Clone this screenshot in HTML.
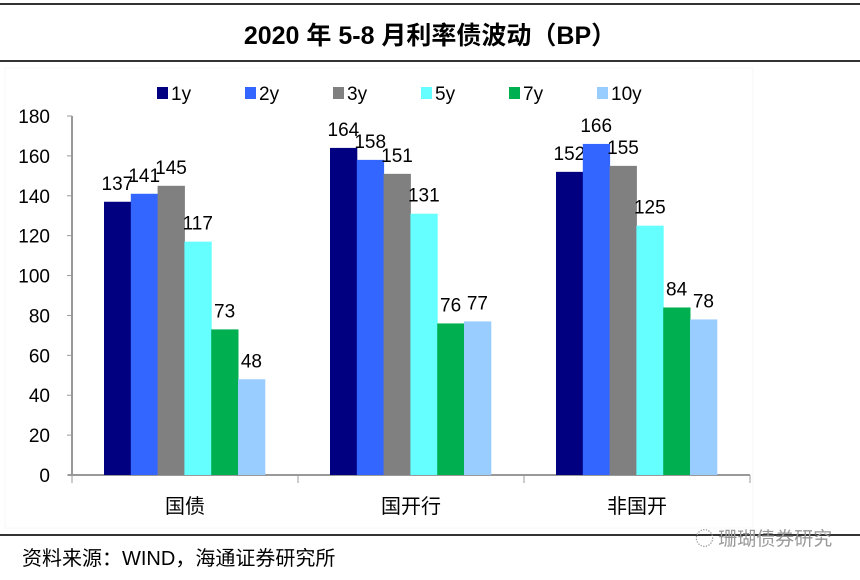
<!DOCTYPE html>
<html><head><meta charset="utf-8"><style>
body{margin:0;background:#fff;width:860px;height:575px;overflow:hidden;font-family:"Liberation Sans","Noto Sans CJK SC",sans-serif}
</style></head><body>
<svg id="c" width="860" height="575" xmlns="http://www.w3.org/2000/svg">
<line x1="0" y1="4" x2="860" y2="4" stroke="#333" stroke-width="2"/>
<text x="430" y="44" text-anchor="middle" font-size="25" font-weight="bold" font-family="Liberation Sans,Noto Sans CJK SC,sans-serif">2020 年 5-8 月利率债波动（BP）</text>
<line x1="0" y1="61" x2="860" y2="61" stroke="#333" stroke-width="2"/>
<rect x="5" y="68" width="748" height="460" fill="none" stroke="#f7f7f7"/>
<g id="legend"></g><g id="axes"></g><g id="bars"></g>
<line x1="0" y1="535" x2="860" y2="535" stroke="#333" stroke-width="2"/>
<text x="22" y="565" font-size="20" font-family="Liberation Sans,Noto Sans CJK SC,sans-serif">资料来源：WIND，海通证券研究所</text>
<text x="695" y="545" font-size="19" fill="#999" font-family="Noto Sans CJK SC,sans-serif">◌ 珊瑚债券研究</text>
</svg>
<script>
const categories=["国债","国开行","非国开"];
const seriesNames=["1y","2y","3y","5y","7y","10y"];
const colors=["#000080","#3366ff","#808080","#66ffff","#00b050","#99ccff"];
const s1y=[137,164,152];
const s2y=[141,158,166];
const s3y=[145,151,155];
const s5y=[117,131,125];
const s7y=[73,76,84];
const s10y=[48,77,78];
const yTicks=[0,20,40,60,80,100,120,140,160,180];
const series=[s1y,s2y,s3y,s5y,s7y,s10y];
const NS="http://www.w3.org/2000/svg";
const x0=72,gw=226,y0=475,ymax=180,yTop=116,bw=26.8,off=32;
const y=v=>y0-(v/ymax)*(y0-yTop);
function mk(t,a,p){const e=document.createElementNS(NS,t);for(const k in a)e.setAttribute(k,a[k]);p.appendChild(e);return e;}
const ax=document.getElementById('axes'),bars=document.getElementById('bars'),lg=document.getElementById('legend');
let l=mk('line',{x1:x0,y1:y(ymax),x2:x0,y2:y0,stroke:'#999','stroke-width':2},ax);


l=mk('line',{x1:x0-4,y1:y0,x2:x0+gw*3,y2:y0,stroke:'#999','stroke-width':2},ax);


yTicks.forEach(t=>{
 const tk=mk('line',{x1:x0-5,y1:y(t),x2:x0,y2:y(t),stroke:'#999'},ax);
 
 
 const tx=mk('text',{x:x0-22,y:y(t)+7,'text-anchor':'end','font-size':19},ax);tx.textContent=t;
 
 
});
for(let g=0;g<=3;g++){const tk=mk('line',{x1:x0+g*gw,y1:y0,x2:x0+g*gw,y2:y0+8,stroke:'#999'},ax);
 
 }
categories.forEach((c,g)=>{
 const tx=mk('text',{x:x0+g*gw+gw/2,y:513,'text-anchor':'middle','font-size':20,'font-family':'Noto Sans CJK SC,sans-serif'},ax);tx.textContent=c;
 
 
 series.forEach((s,i)=>{
  const bx=x0+g*gw+off+i*bw,v=s[g];
  const r=mk('rect',{x:bx,y:y(v),width:bw+0.5,height:y0-y(v),fill:colors[i]},bars);
  
  
  const t=mk('text',{x:bx+bw/2,y:y(v)-12,'text-anchor':'middle','font-size':19},bars);t.textContent=v;
  
  
 });
});
seriesNames.forEach((n,i)=>{
 const lx=157+i*88;
 const r=mk('rect',{x:lx,y:87,width:11,height:12,fill:colors[i]},lg);
 
 
 const t=mk('text',{x:lx+14,y:100,'font-size':19},lg);t.textContent=n;
 
 
});
</script>
</body></html>
